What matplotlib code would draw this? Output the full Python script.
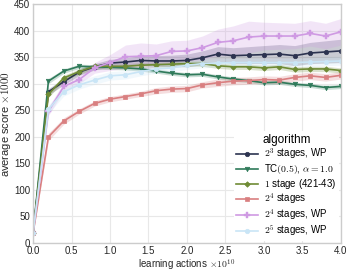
import matplotlib
matplotlib.use("Agg")
import matplotlib.pyplot as plt
import numpy as np

x = [0.0, 0.2, 0.4, 0.6, 0.8, 1.0, 1.2, 1.4, 1.6, 1.8, 2.0, 2.2, 2.4, 2.6, 2.8, 3.0, 3.2, 3.4, 3.6, 3.8, 4.0]

labels = [r"$2^3$ stages, WP", r"TC$(0.5)$, $\alpha=1.0$", r"$1$ stage (421-43)",
          r"$2^4$ stages", r"$2^4$ stages, WP", r"$2^5$ stages, WP"]

navy = [18, 285, 304, 322, 332, 339, 341, 344, 343, 343, 344, 349, 356, 353, 354, 355, 356, 353, 358, 360, 362]
tc = [18, 305, 324, 333, 332, 331, 330, 328, 324, 320, 317, 318, 313, 309, 306, 302, 303, 299, 297, 293, 295]
one = [18, 280, 311, 323, 333, 333, 333, 335, 336, 337, 338, 338, 334, 332, 332, 330, 332, 327, 328, 328, 325]
s4 = [18, 200, 230, 248, 263, 271, 276, 281, 287, 290, 291, 298, 302, 305, 306, 308, 307, 312, 315, 312, 316]
s4wp = [18, 248, 295, 308, 330, 340, 351, 352, 353, 361, 362, 368, 378, 381, 388, 390, 390, 390, 395, 390, 398]
s5wp = [18, 252, 285, 298, 307, 315, 317, 323, 328, 330, 335, 338, 339, 340, 340, 340, 340, 340, 341, 342, 343]

err_navy = [2, 6, 6, 6, 6, 7, 8, 9, 10, 11, 12, 13, 14, 15, 16, 17, 18, 19, 20, 21, 22]
err_tc = [2, 5, 4, 4, 4, 4, 4, 4, 4, 4, 4, 4, 4, 4, 4, 4, 4, 4, 4, 4, 4]
err_one = [2, 6, 5, 5, 5, 5, 5, 5, 5, 5, 5, 5, 5, 5, 5, 5, 5, 5, 5, 5, 5]
err_s4 = [2, 7, 6, 5, 5, 5, 5, 5, 6, 6, 6, 6, 7, 7, 7, 7, 7, 7, 7, 7, 7]
err_s4wp = [2, 8, 8, 8, 10, 15, 22, 25, 22, 20, 20, 22, 25, 28, 30, 26, 25, 24, 24, 24, 25]
err_s5wp = [2, 8, 8, 8, 8, 8, 8, 8, 8, 8, 8, 8, 8, 8, 8, 8, 8, 8, 8, 8, 8]

colors = ["#2c3350", "#2f7a5a", "#6f8b35", "#d97f80", "#cf9ae3", "#c9e5f6"]
markers = ["o", "v", "D", "s", "P", "o"]
series = [navy, tc, one, s4, s4wp, s5wp]
errs = [err_navy, err_tc, err_one, err_s4, err_s4wp, err_s5wp]
msizes = [3.2, 3.2, 2.8, 3.2, 4, 3.2]

plt.rcParams["font.family"] = ["Liberation Sans", "DejaVu Sans"]
plt.rcParams["mathtext.fontset"] = "cm"

fig = plt.figure(figsize=(3.49, 2.72), dpi=100)
ax = fig.add_axes([0.0946, 0.1066, 0.8824, 0.878])
ax.set_facecolor("white")
for s in ax.spines.values():
    s.set_color("#cccccc")
    s.set_linewidth(1.0)
ax.grid(True, color="#e8e8e8", linewidth=0.8)
ax.set_axisbelow(True)

xa = np.array(x)
for vals, e, c, m, ms, lab in zip(series, errs, colors, markers, msizes, labels):
    v = np.array(vals, float)
    ee = np.array(e, float)
    ax.fill_between(xa, v - ee, v + ee, color=c, alpha=0.25, linewidth=0)
    ax.plot(xa, v, color=c, marker=m, markersize=ms, linewidth=1.2, label=lab,
            markeredgewidth=0.5 if m != "P" else 0.3)

ax.set_xlim(0, 4.0)
ax.set_ylim(0, 450)
ax.set_xticks([0.0, 0.5, 1.0, 1.5, 2.0, 2.5, 3.0, 3.5, 4.0])
ax.set_xticklabels(["0.0", "0.5", "1.0", "1.5", "2.0", "2.5", "3.0", "3.5", "4.0"])
ax.set_yticks(range(0, 451, 50))
ax.tick_params(axis="both", labelsize=7, length=0, pad=2, colors="#262626")
ax.set_xlabel(r"learning actions $\times10^{10}$", fontsize=7, labelpad=1.5, color="#262626")
ax.set_ylabel(r"average score $\times1000$", fontsize=8, labelpad=1, color="#262626")

leg = ax.legend(title="algorithm", loc="lower right", fontsize=7, title_fontsize=8.5,
                frameon=True, framealpha=1.0, edgecolor="white", facecolor="white",
                borderaxespad=0.2, handlelength=2.2, handletextpad=0.6,
                labelspacing=0.05, borderpad=0.3)
leg.get_frame().set_linewidth(0)

fig.savefig("out.png", dpi=100)
